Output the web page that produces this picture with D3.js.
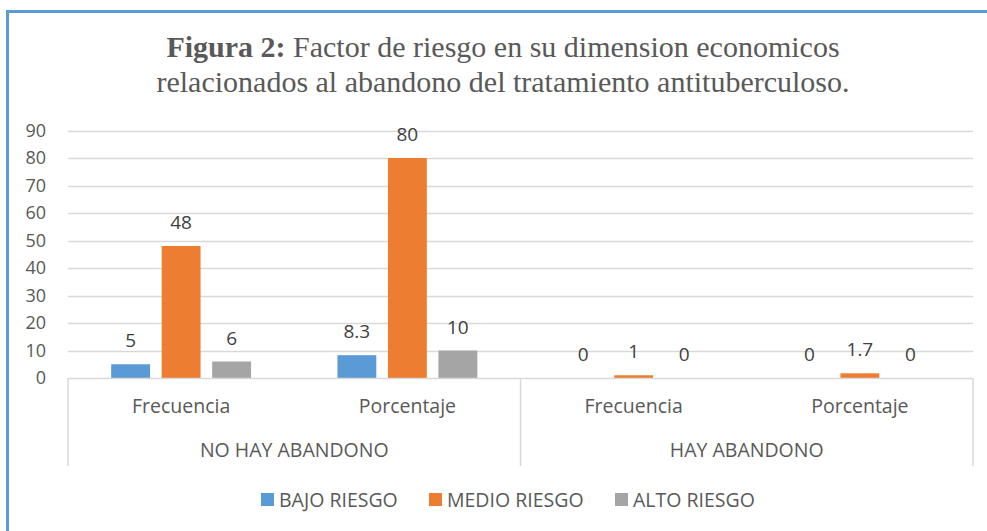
<!DOCTYPE html>
<html>
<head>
<meta charset="utf-8">
<script src="https://cdn.jsdelivr.net/npm/d3@7"></script>
<style>
  body { margin: 0; background: #fff; }
  svg { display: block; }
</style>
</head>
<body>
<svg id="chart" width="987" height="531"></svg>
<script>
// valores
const grupos = ["NO HAY ABANDONO", "HAY ABANDONO"];
const medidas = ["Frecuencia", "Porcentaje"];
const series = ["BAJO RIESGO", "MEDIO RIESGO", "ALTO RIESGO"];
const bajoRiesgo = [5, 8.3, 0, 0];
const medioRiesgo = [48, 80, 1, 1.7];
const altoRiesgo = [6, 10, 0, 0];
const yTicks = [0, 10, 20, 30, 40, 50, 60, 70, 80, 90];
const colores = ["#5B9BD5", "#ED7D31", "#A5A5A5"];

const svg = d3.select("#chart");

// marco azul
svg.append("rect")
    .attr("x", 7.5).attr("y", 11.5)
    .attr("width", 1100).attr("height", 600)
    .attr("fill", "none")
    .attr("stroke", "#5B9BD5")
    .attr("stroke-width", 3);

// titulo
const title = svg.append("text")
    .attr("x", 503).attr("y", 57)
    .attr("text-anchor", "middle")
    .style("font-family", "'Liberation Serif', 'Times New Roman', serif")
    .style("font-size", "30px")
    .attr("fill", "#595959");
title.append("tspan").attr("font-weight", "bold").text("Figura 2:");
title.append("tspan").text(" Factor de riesgo en su dimension economicos");
svg.append("text")
    .attr("x", 503).attr("y", 92)
    .attr("text-anchor", "middle")
    .style("font-family", "'Liberation Serif', 'Times New Roman', serif")
    .style("font-size", "30px")
    .attr("fill", "#595959")
    .text("relacionados al abandono del tratamiento antituberculoso.");

// categorias
const cats = [];
grupos.forEach(g => medidas.forEach(m => cats.push(g + "|" + m)));
const rows = cats.map((c, i) => ({
    cat: c,
    medida: c.split("|")[1],
    vals: [bajoRiesgo[i], medioRiesgo[i], altoRiesgo[i]]
}));

const x0 = d3.scaleBand().domain(cats).range([68, 973]);
const x1 = d3.scaleBand().domain(series).range([0, x0.bandwidth()])
    .paddingInner(0.23).paddingOuter(0.855);
const y = d3.scaleLinear().domain([0, 90]).range([378, 130.5]);

// grid
svg.append("g").selectAll("line")
    .data(yTicks.slice(1))
    .enter().append("line")
    .attr("x1", 68).attr("x2", 973)
    .attr("y1", d => Math.round(y(d)) + 0.5)
    .attr("y2", d => Math.round(y(d)) + 0.5)
    .attr("stroke", "#D9D9D9").attr("stroke-width", 1.5);

// eje y
const yAxis = svg.append("g")
    .attr("transform", "translate(68,0)")
    .call(d3.axisLeft(y).tickValues(yTicks).tickSize(0).tickPadding(22));
yAxis.select(".domain").remove();
yAxis.selectAll("text")
    .style("font-family", "'Open Sans', sans-serif")
    .style("font-size", "18px")
    .attr("fill", "#595959");

// barras
const grp = svg.append("g").selectAll("g")
    .data(rows)
    .enter().append("g")
    .attr("transform", d => "translate(" + x0(d.cat) + ",0)");

grp.selectAll("rect")
    .data(d => d.vals.map((v, i) => ({ s: series[i], v: v, i: i })))
    .enter().append("rect")
    .attr("x", d => x1(d.s))
    .attr("width", x1.bandwidth())
    .attr("y", d => y(d.v))
    .attr("height", d => y(0) - y(d.v))
    .attr("fill", d => colores[d.i]);

grp.selectAll("text")
    .data(d => d.vals.map((v, i) => ({ s: series[i], v: v, i: i })))
    .enter().append("text")
    .attr("x", d => x1(d.s) + x1.bandwidth() / 2)
    .attr("y", d => y(d.v) - 17)
    .attr("text-anchor", "middle")
    .style("font-family", "'Open Sans', sans-serif")
    .style("font-size", "19px")
    .attr("fill", "#404040")
    .text(d => d.v);

// eje de categorias (dos niveles)
const axisG = svg.append("g");
axisG.append("line")
    .attr("x1", 68).attr("x2", 973).attr("y1", 378.5).attr("y2", 378.5)
    .attr("stroke", "#D9D9D9").attr("stroke-width", 1.5);
const bordes = [x0(cats[0]), x0(cats[2]), x0(cats[3]) + x0.bandwidth()];
axisG.selectAll("line.sep")
    .data(bordes)
    .enter().append("line")
    .attr("class", "sep")
    .attr("x1", d => d).attr("x2", d => d)
    .attr("y1", 378).attr("y2", 466)
    .attr("stroke", "#D9D9D9").attr("stroke-width", 1.5);

axisG.selectAll("text.med")
    .data(rows)
    .enter().append("text")
    .attr("class", "med")
    .attr("x", d => x0(d.cat) + x0.bandwidth() / 2)
    .attr("y", 413)
    .attr("text-anchor", "middle")
    .style("font-family", "'Open Sans', sans-serif")
    .style("font-size", "19.5px")
    .attr("fill", "#595959")
    .text(d => d.medida);

axisG.selectAll("text.grp")
    .data(grupos)
    .enter().append("text")
    .attr("class", "grp")
    .attr("x", (d, i) => x0(cats[i * 2]) + x0.bandwidth())
    .attr("y", 457)
    .attr("text-anchor", "middle")
    .style("font-family", "'Open Sans', sans-serif")
    .style("font-size", "19.5px")
    .attr("fill", "#595959")
    .text(d => d);

// leyenda
const legX = [261, 429, 615];
const leg = svg.append("g").selectAll("g")
    .data(series)
    .enter().append("g")
    .attr("transform", (d, i) => "translate(" + legX[i] + ",493)");
leg.append("rect")
    .attr("width", 13).attr("height", 13)
    .attr("fill", (d, i) => colores[i]);
leg.append("text")
    .attr("x", 18).attr("y", 13.5)
    .style("font-family", "'Open Sans', sans-serif")
    .style("font-size", "19.5px")
    .attr("fill", "#595959")
    .text(d => d);
</script>
</body>
</html>
